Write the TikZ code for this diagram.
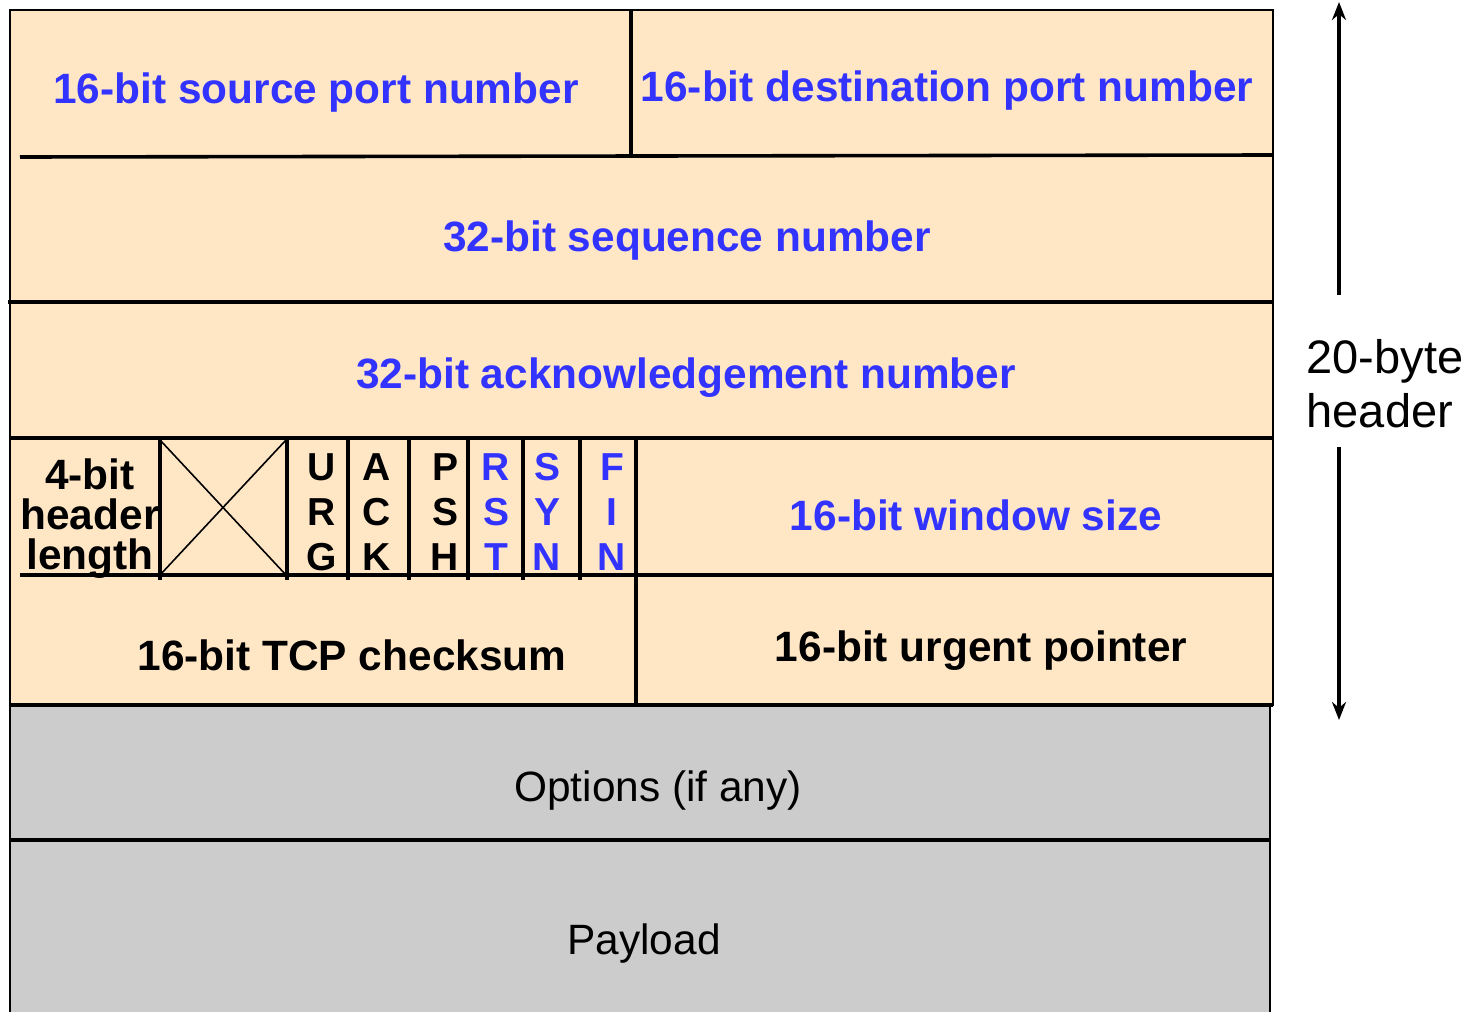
\documentclass[tikz,border=0pt]{standalone}
\usepackage{fontspec}
\setmainfont{Liberation Sans}
\usetikzlibrary{arrows.meta}
\definecolor{peach}{HTML}{FFE7C6}
\definecolor{grayfill}{HTML}{CCCCCC}
\definecolor{fblue}{HTML}{3333FF}
\tikzset{
  field/.style={font=\fontsize{21.2}{25}\selectfont\bfseries, inner sep=0pt},
  bluefield/.style={field, text=fblue},
  flagtxt/.style={font=\fontsize{19.5}{22.5}\selectfont\bfseries, align=center, inner sep=0pt},
  plain/.style={font=\fontsize{21.2}{25}\selectfont, inner sep=0pt},
  sep/.style={line width=1.8pt},
  thinsep/.style={line width=1pt},
  dimarrow/.style={line width=2pt, -{Stealth[length=9pt,width=7pt]}}
}
\begin{document}
\begin{tikzpicture}[x=0.5pt,y=-0.5pt]
\useasboundingbox (0,0) rectangle (1476,1011);
% header background
\fill[peach] (10,10) rectangle (1273,705);
\draw[thinsep] (10,10) rectangle (1273,705);
% row separators
\draw[sep] (20,157) -- (1273,155);
\draw[sep] (8,302) -- (1273,302);
\draw[sep] (10,438) -- (1273,438);
\draw[sep] (20,575) -- (1273,575);
\draw[sep] (10,705) -- (1273,705);
% verticals
\draw[sep] (631,10) -- (631,157);
\draw[sep] (636,438) -- (636,705);
\foreach \xx in {160,287,348,409,468,523,580}{
  \draw[sep] (\xx,440) -- (\xx,580);
}
% cross
\draw[line width=0.8pt] (160,440) -- (286,575);
\draw[line width=0.8pt] (286,440) -- (160,575);
% options and payload
\fill[grayfill] (10,706) rectangle (1270,1015);
\draw[thinsep] (10,706) rectangle (1270,1015);
\draw[sep] (10,840) -- (1270,840);
% texts
\node[bluefield] (src) at (316,93) {16-bit source port number};
\node[bluefield] (dst) at (947,91) {16-bit destination port number};
\node[bluefield] (seq) at (687,241) {32-bit sequence number};
\node[bluefield] (ack) at (686,378) {32-bit acknowledgement number};
\node[field, align=center, font=\fontsize{21.2}{20}\selectfont\bfseries] (hlen) at (90,519) {4-bit\\header\\length};
\node[flagtxt] (urg) at (322,512) {U\\R\\G};
\node[flagtxt] (ackf) at (377,512) {A\\C\\K};
\node[flagtxt] (psh) at (445,512) {P\\S\\H};
\node[flagtxt, text=fblue] (rst) at (496,512) {R\\S\\T};
\node[flagtxt, text=fblue] (syn) at (547,512) {S\\Y\\N};
\node[flagtxt, text=fblue] (fin) at (612,512) {F\\I\\N};
\node[bluefield] (win) at (976,515) {16-bit window size};
\node[field] (chk) at (352,655) {16-bit TCP checksum};
\node[field] (urp) at (981,651) {16-bit urgent pointer};
\node[plain] (opt) at (658,791) {Options (if any)};
\node[plain] (pay) at (644,944) {Payload};
% 20-byte header
\node[font=\fontsize{23.5}{27}\selectfont, align=left, inner sep=0pt] (hdr) at (1385,384) {20-byte\\header};
\coordinate (atop) at (1339,2);
\coordinate (abot) at (1339,720);
\coordinate (aup) at (1339,295);
\coordinate (adn) at (1339,447);
\draw[dimarrow] (aup) -- (atop);
\draw[dimarrow] (adn) -- (abot);
\end{tikzpicture}
\end{document}
